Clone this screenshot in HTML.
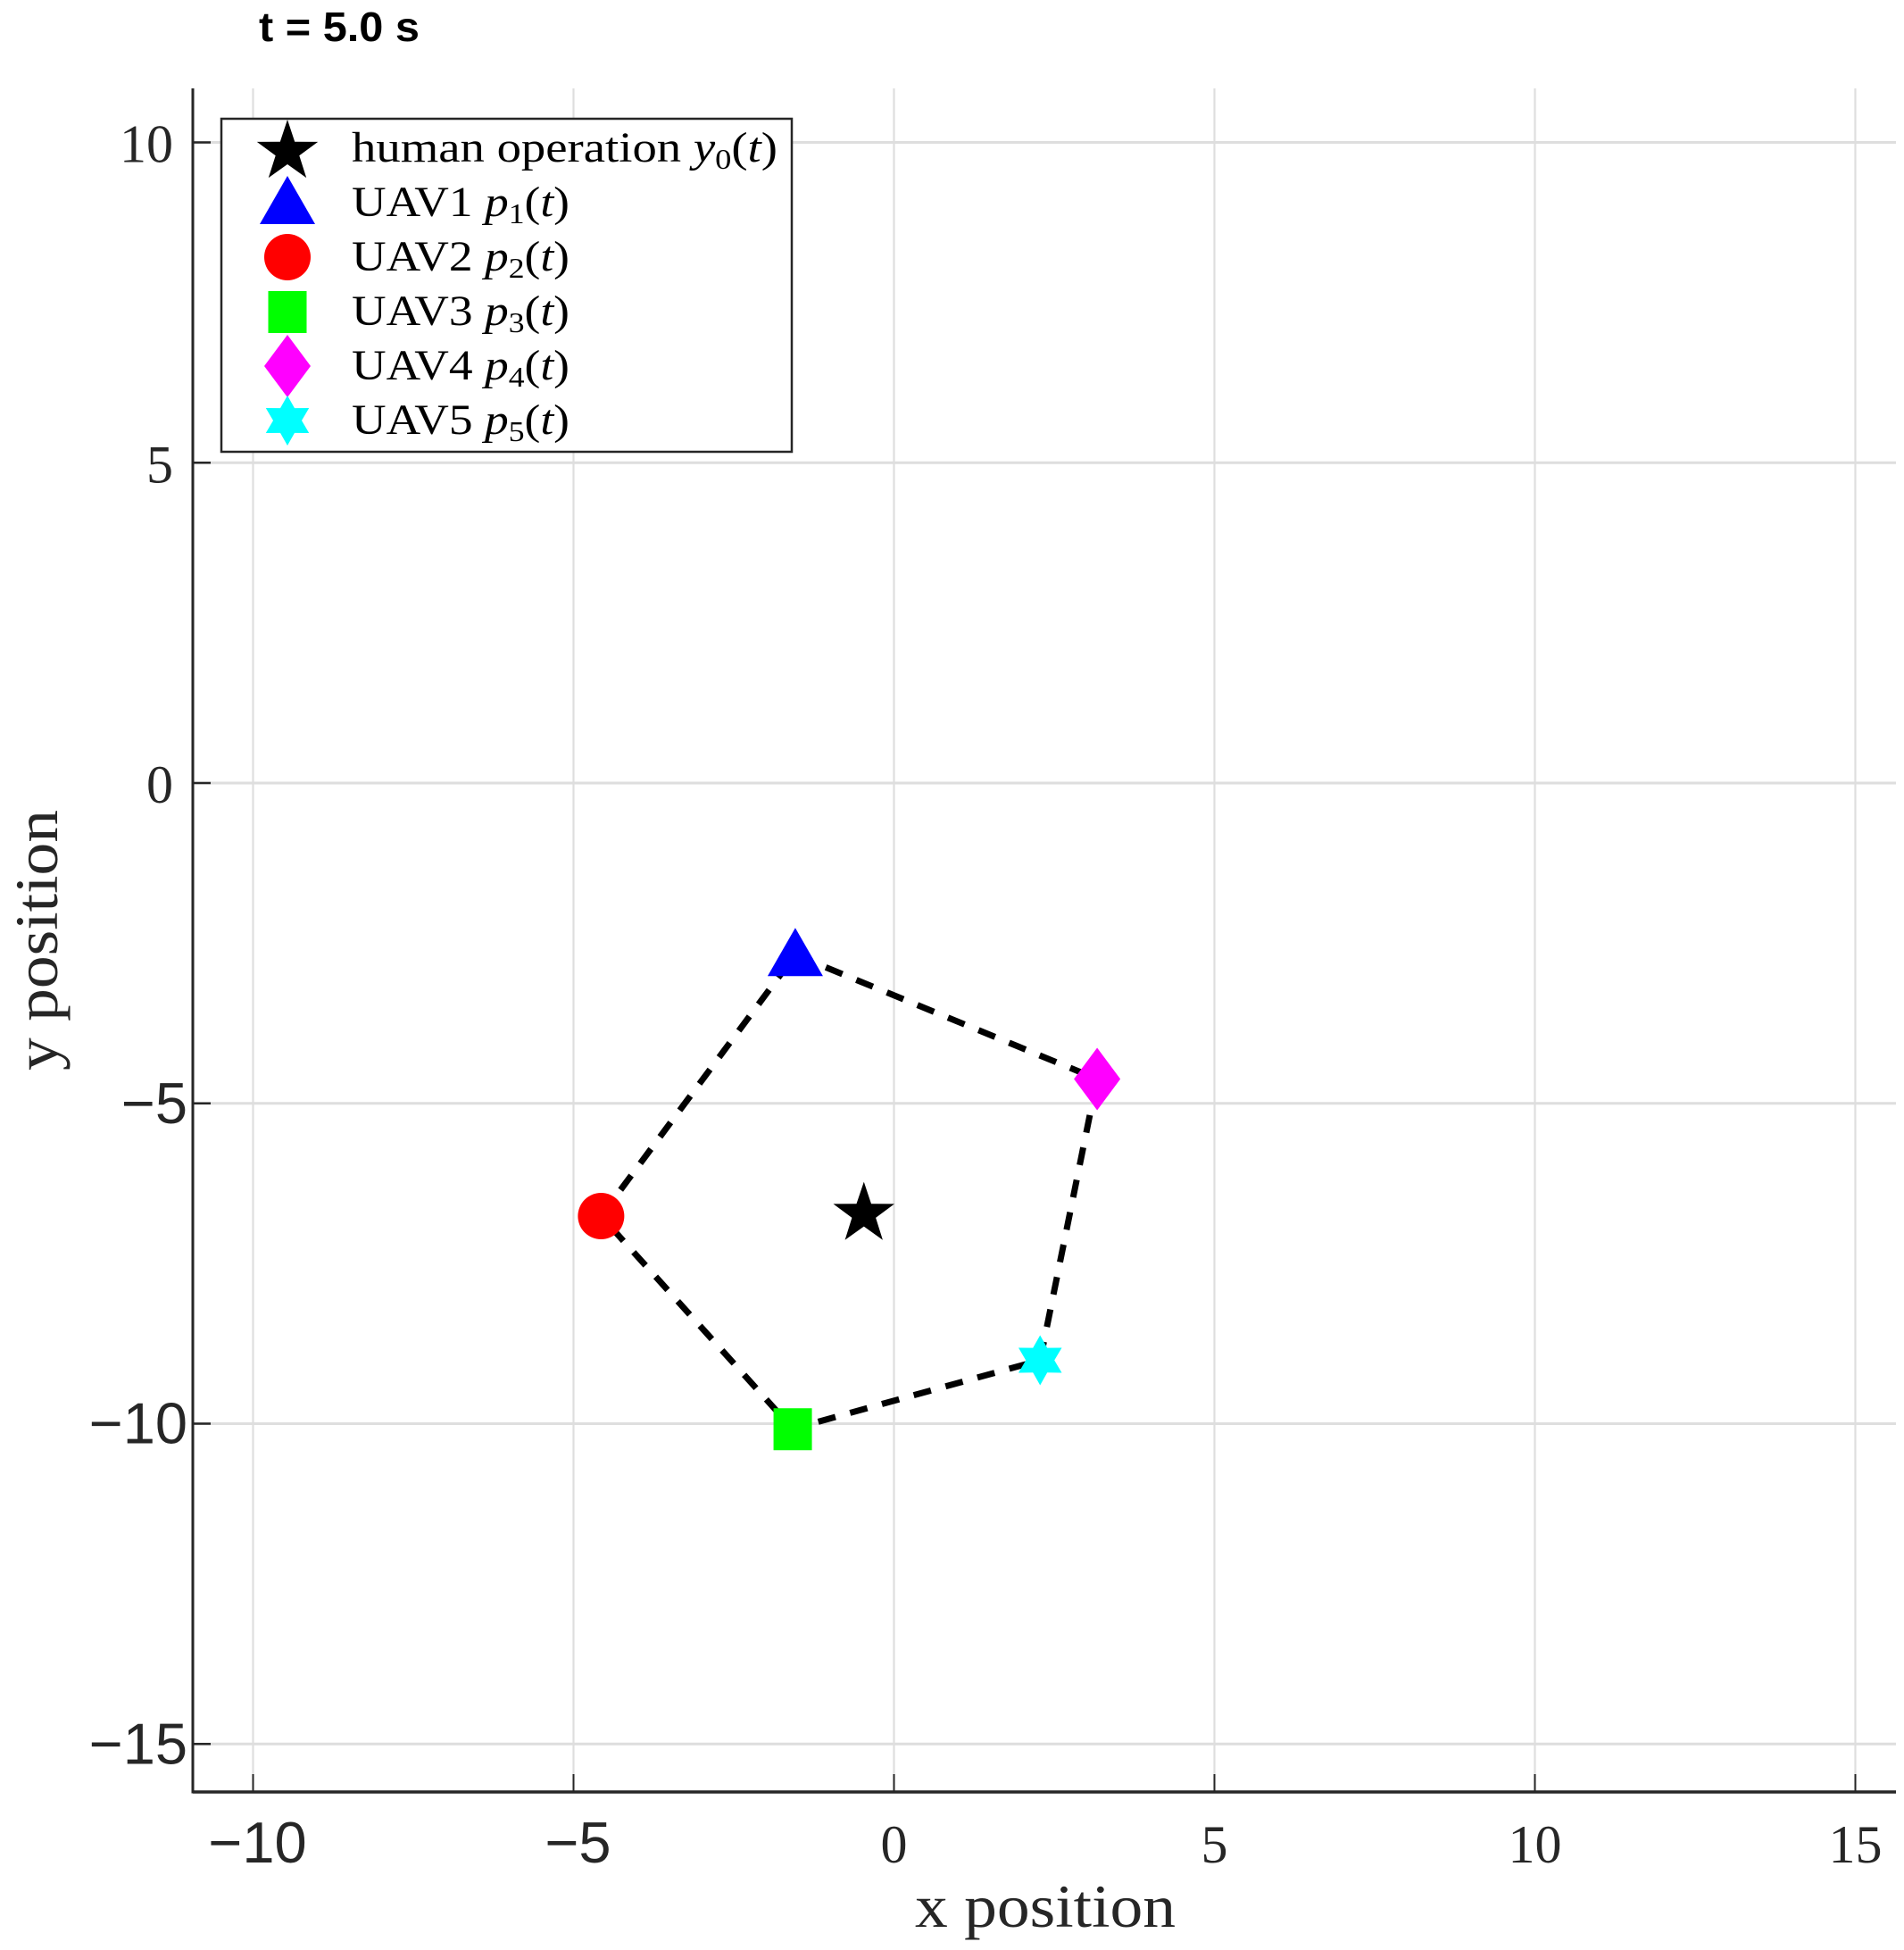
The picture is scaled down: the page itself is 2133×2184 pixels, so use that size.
<!DOCTYPE html>
<html><head><meta charset="utf-8"><style>
html,body{margin:0;padding:0;background:#fff;}
svg{display:block;}
.serif{font-family:"Liberation Serif",serif;}
.sans{font-family:"Liberation Sans",sans-serif;}
</style></head><body>
<svg id="chart" width="2133" height="2184" viewBox="0 0 2133 2184" xmlns="http://www.w3.org/2000/svg">
<text x="290" y="46" class="sans" font-weight="bold" font-size="46" textLength="180" lengthAdjust="spacingAndGlyphs" fill="#000">t = 5.0 s</text>
<g id="grid"></g>
<g id="axes"></g>
<g id="series"></g>
<text x="1025" y="2158" class="serif" font-size="68" textLength="292" lengthAdjust="spacingAndGlyphs" fill="#262626">x position</text>
<text transform="translate(64,1199) rotate(-90)" class="serif" font-size="68" textLength="292" lengthAdjust="spacingAndGlyphs" fill="#262626">y position</text>
<g>
<rect x="248" y="133" width="639" height="373" fill="#fff" stroke="#262626" stroke-width="2.5"/>
<g id="legend-items"></g>
</g>
</svg>
<script>
const xTicks=[-10,-5,0,5,10,15];
const yTicks=[10,5,0,-5,-10,-15];
const seriesNames=["human operation","UAV1","UAV2","UAV3","UAV4","UAV5"];
const seriesX=[-0.47,-1.54,-4.57,-1.58,3.17,2.28];
const seriesY=[-6.67,-2.68,-6.76,-10.08,-4.62,-9.01];
const formationOrder=[1,4,5,3,2,1];

const NS="http://www.w3.org/2000/svg";
const L=216,R=2124,T=99,B=2007;
function sx(v){return 1001.5+v*71.8;}
function sy(v){return 877+v*71.75*-1;}
function mk(tag,attrs,parent){const e=document.createElementNS(NS,tag);for(const k in attrs)e.setAttribute(k,attrs[k]);parent.appendChild(e);return e;}
const grid=document.getElementById('grid'),axes=document.getElementById('axes'),ser=document.getElementById('series');
xTicks.forEach(t=>{
  const g=mk('line',{x1:sx(t),x2:sx(t),y1:T,y2:B,stroke:'#dedede','stroke-width':2.2},grid);
  
  
  const tk=mk('line',{x1:sx(t),x2:sx(t),y1:B,y2:B-20,stroke:'#262626','stroke-width':2},axes);
  
  
  const neg=t<0;
  const lb=mk('text',{x:sx(t)+(neg?5:0),y:2086,'text-anchor':'middle','font-size':neg?65:60,fill:'#262626','class':neg?'sans':'serif'},axes);
  lb.textContent=neg?'\u2212'+Math.abs(t):String(t);
  
  
});
yTicks.forEach(t=>{
  const g=mk('line',{x1:L,x2:R,y1:sy(t),y2:sy(t),stroke:'#dedede','stroke-width':3},grid);
  
  
  const tk=mk('line',{x1:L,x2:L+20,y1:sy(t),y2:sy(t),stroke:'#262626','stroke-width':2.5},axes);
  
  
  const neg=t<0;
  const lb=mk('text',{x:neg?210:194,y:sy(t)+22,'text-anchor':'end','font-size':neg?65:60,fill:'#262626','class':neg?'sans':'serif'},axes);
  lb.textContent=neg?'\u2212'+Math.abs(t):String(t);
  
  
});
const ax1=mk('line',{x1:L,x2:L,y1:T,y2:B+1.5,stroke:'#262626','stroke-width':3},axes);


const ax2=mk('line',{x1:L,x2:R,y1:B,y2:B,stroke:'#262626','stroke-width':3.5},axes);



const pts=formationOrder.map(i=>sx(seriesX[i])+','+sy(seriesY[i])).join(' ');
const poly=mk('polyline',{points:pts,fill:'none',stroke:'#000','stroke-width':7,'stroke-dasharray':'20 17'},ser);



function starPts(cx,cy,ro,ri,n,rot){let p=[];for(let k=0;k<2*n;k++){const r=k%2?ri:ro;const a=rot+k*Math.PI/n;p.push((cx+r*Math.sin(a)).toFixed(1)+','+(cy-r*Math.cos(a)).toFixed(1));}return p.join(' ');}
function marker(i,cx,cy,parent){
  let e;
  if(i===0)e=mk('polygon',{points:starPts(cx,cy+4,36,14,5,0),fill:'#000'},parent);
  else if(i===1)e=mk('polygon',{points:`${cx},${cy-30} ${cx+31},${cy+24} ${cx-31},${cy+24}`,fill:'#0000ff'},parent);
  else if(i===2)e=mk('circle',{cx:cx,cy:cy,r:26,fill:'#ff0000'},parent);
  else if(i===3)e=mk('rect',{x:cx-21.5,y:cy-23,width:43,height:47,fill:'#00ff00'},parent);
  else if(i===4)e=mk('polygon',{points:`${cx},${cy-35} ${cx+26},${cy} ${cx},${cy+35} ${cx-26},${cy}`,fill:'#ff00ff'},parent);
  else e=mk('polygon',{points:starPts(cx,cy,28,16,6,0),fill:'#00ffff'},parent);
  return e;
}
seriesNames.forEach((n,i)=>{
  const m=marker(i,sx(seriesX[i]),sy(seriesY[i]),ser);
  
  
});
const leg=document.getElementById('legend-items');
const sub=['y','p','p','p','p','p'];
seriesNames.forEach((n,i)=>{
  const cy=166+i*61;
  const m=marker(i,322,cy,leg);
  
  
  const t=mk('text',{x:394,y:cy+15,'font-size':48,fill:'#000','class':'serif',textLength:(i===0?477:244),lengthAdjust:'spacingAndGlyphs'},leg);
  
  
  t.innerHTML=n+' <tspan font-style="italic">'+sub[i]+'</tspan><tspan font-size="32" dy="8">'+(i)+'</tspan><tspan dy="-8">(</tspan><tspan font-style="italic">t</tspan>)';
});
</script>
</body></html>
